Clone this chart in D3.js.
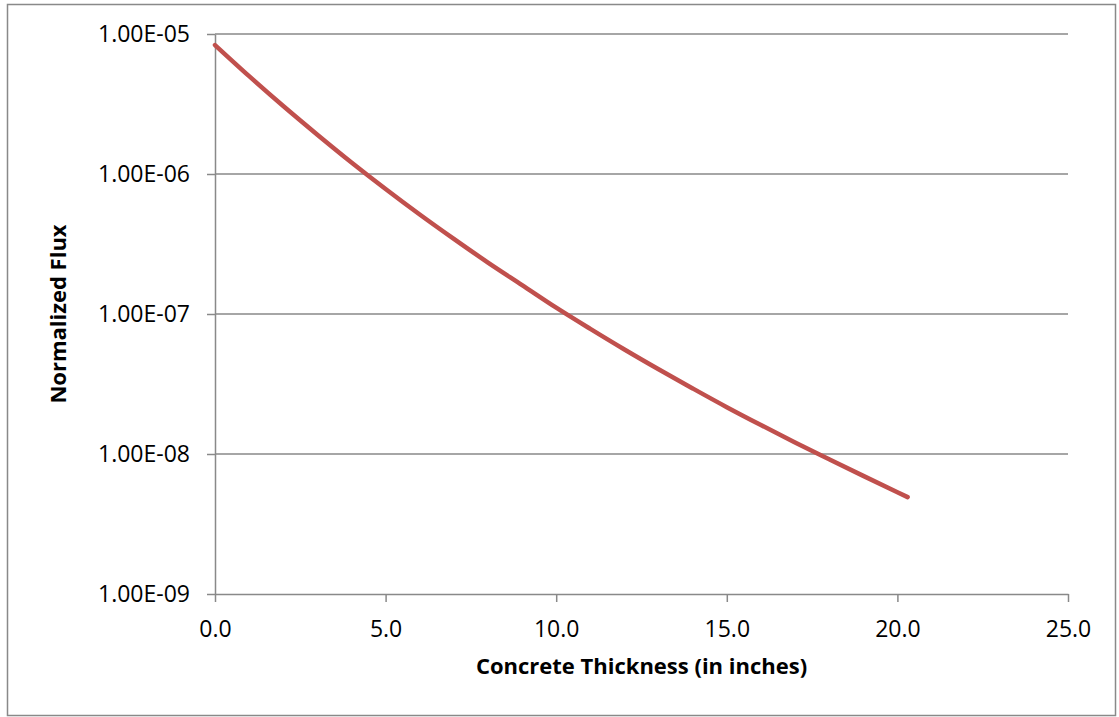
<!DOCTYPE html>
<html>
<head>
<meta charset="utf-8">
<script src="https://cdn.jsdelivr.net/npm/d3@7"></script>
<style>
  html, body { margin: 0; padding: 0; background: #fff; }
  svg { display: block; font-family: "Open Sans", sans-serif; }
</style>
</head>
<body>
<div id="chart"></div>
<script>
// thickness in inches
const thickness = [0, 1, 2, 3, 4, 5, 6, 7, 8, 9, 10, 11, 12, 13, 14, 15, 16, 17, 18, 19, 20, 20.3];
// normalized flux at each thickness
const flux = [8.34e-6, 5.00e-6, 3.06e-6, 1.91e-6, 1.21e-6, 7.82e-7, 5.14e-7, 3.44e-7, 2.33e-7,
  1.61e-7, 1.11e-7, 7.83e-8, 5.58e-8, 4.03e-8, 2.94e-8, 2.16e-8, 1.61e-8, 1.21e-8,
  9.18e-9, 6.98e-9, 5.33e-9, 4.92e-9];
const xTicks = [0, 5, 10, 15, 20, 25];
const yTicks = [1e-9, 1e-8, 1e-7, 1e-6, 1e-5];

const width = 1119;
const height = 717;
const marginTop = 34;
const marginRight = 51;
const marginBottom = 123;
const marginLeft = 215;

const gray = "#898989";

const svg = d3.select("#chart").append("svg")
  .attr("width", width)
  .attr("height", height)
  .attr("viewBox", [0, 0, width, height]);

// chart frame
svg.append("rect")
  .attr("x", 7.5)
  .attr("y", 4.5)
  .attr("width", 1108)
  .attr("height", 711)
  .attr("fill", "none")
  .attr("stroke", gray)
  .attr("stroke-width", 1.5);

const x = d3.scaleLinear()
  .domain([0, 25])
  .range([marginLeft, width - marginRight]);

const y = d3.scaleLog()
  .domain([1e-9, 1e-5])
  .range([height - marginBottom, marginTop]);

// horizontal grid lines
svg.append("g")
  .selectAll("line")
  .data(yTicks.slice(1))
  .join("line")
  .attr("x1", marginLeft)
  .attr("x2", width - marginRight)
  .attr("y1", d => y(d))
  .attr("y2", d => y(d))
  .attr("stroke", gray)
  .attr("stroke-width", 1.5);

// x axis
svg.append("g")
  .attr("transform", `translate(0,${height - marginBottom})`)
  .call(d3.axisBottom(x).tickValues(xTicks).tickFormat(d3.format(".1f")).tickSizeInner(8).tickSizeOuter(0).tickPadding(19))
  .call(g => g.select(".domain").attr("stroke", gray).attr("stroke-width", 1.5))
  .call(g => g.selectAll(".tick line").attr("stroke", gray).attr("stroke-width", 1.5))
  .call(g => g.selectAll(".tick text").attr("fill", "#000").attr("font-size", 23).attr("font-family", "Open Sans"));

// y axis
svg.append("g")
  .attr("transform", `translate(${marginLeft},0)`)
  .call(d3.axisLeft(y).tickValues(yTicks).tickFormat(d => d.toExponential(2).toUpperCase().replace(/E([+-])(\d)$/, "E$10$2")).tickSizeInner(8).tickSizeOuter(0).tickPadding(17))
  .call(g => g.select(".domain").attr("stroke", gray).attr("stroke-width", 1.5))
  .call(g => g.selectAll(".tick line").attr("stroke", gray).attr("stroke-width", 1.5))
  .call(g => g.selectAll(".tick text").attr("fill", "#000").attr("font-size", 23).attr("font-family", "Open Sans"));

// the flux curve
const points = thickness.map((t, i) => [t, flux[i]]);
const line = d3.line()
  .x(d => x(d[0]))
  .y(d => y(d[1]))
  .curve(d3.curveMonotoneX);

svg.append("path")
  .datum(points)
  .attr("fill", "none")
  .attr("stroke", "#C0504D")
  .attr("stroke-width", 4.5)
  .attr("stroke-linecap", "round")
  .attr("stroke-linejoin", "round")
  .attr("d", line);

// axis titles
svg.append("text")
  .attr("x", (marginLeft + width - marginRight) / 2)
  .attr("y", 674)
  .attr("text-anchor", "middle")
  .attr("font-size", 22)
  .attr("font-weight", "bold")
  .text("Concrete Thickness (in inches)");

svg.append("text")
  .attr("transform", `translate(66,${(marginTop + height - marginBottom) / 2}) rotate(-90)`)
  .attr("text-anchor", "middle")
  .attr("font-size", 22)
  .attr("font-weight", "bold")
  .text("Normalized Flux");
</script>
</body>
</html>
